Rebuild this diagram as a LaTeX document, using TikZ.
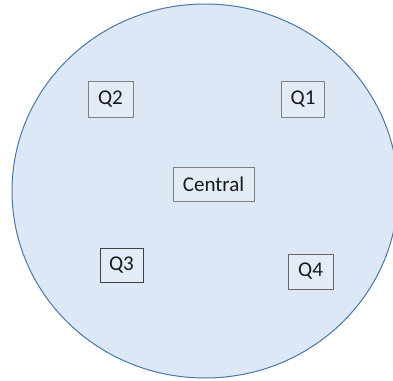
\documentclass[tikz,border=0pt]{standalone}
\usepackage{fontspec}
\setmainfont{Carlito}
\definecolor{discfill}{HTML}{DCE8F5}
\definecolor{discline}{HTML}{4A76A8}
\definecolor{boxfill}{HTML}{E2EBF6}
\definecolor{boxline}{HTML}{808080}
\tikzset{
  qbox/.style={draw=boxline, fill=boxfill, line width=0.9pt, inner sep=0pt,
    font=\fontsize{21}{24}\selectfont, text=black!90},
}
\begin{document}
\begin{tikzpicture}[x=1pt,y=-1pt]
\useasboundingbox (0,0) rectangle (393,380);
\begin{scope}
\clip (0,0) rectangle (393,380);
\draw[discline, fill=discfill, line width=1pt] (205,191) ellipse [x radius=193, y radius=187];
\end{scope}
\node[qbox, minimum width=45, minimum height=36] (q2) at (110.5,99) {Q2};
\node[qbox, minimum width=43, minimum height=36] (q1) at (303,99) {Q1};
\node[qbox, minimum width=81, minimum height=34] (central) at (213.5,184) {Central};
\node[qbox, draw=black!75, minimum width=43, minimum height=34] (q3) at (121.5,265) {Q3};
\node[qbox, draw=black!60, minimum width=45, minimum height=35] (q4) at (310.5,271.5) {Q4};
\end{tikzpicture}
\end{document}
